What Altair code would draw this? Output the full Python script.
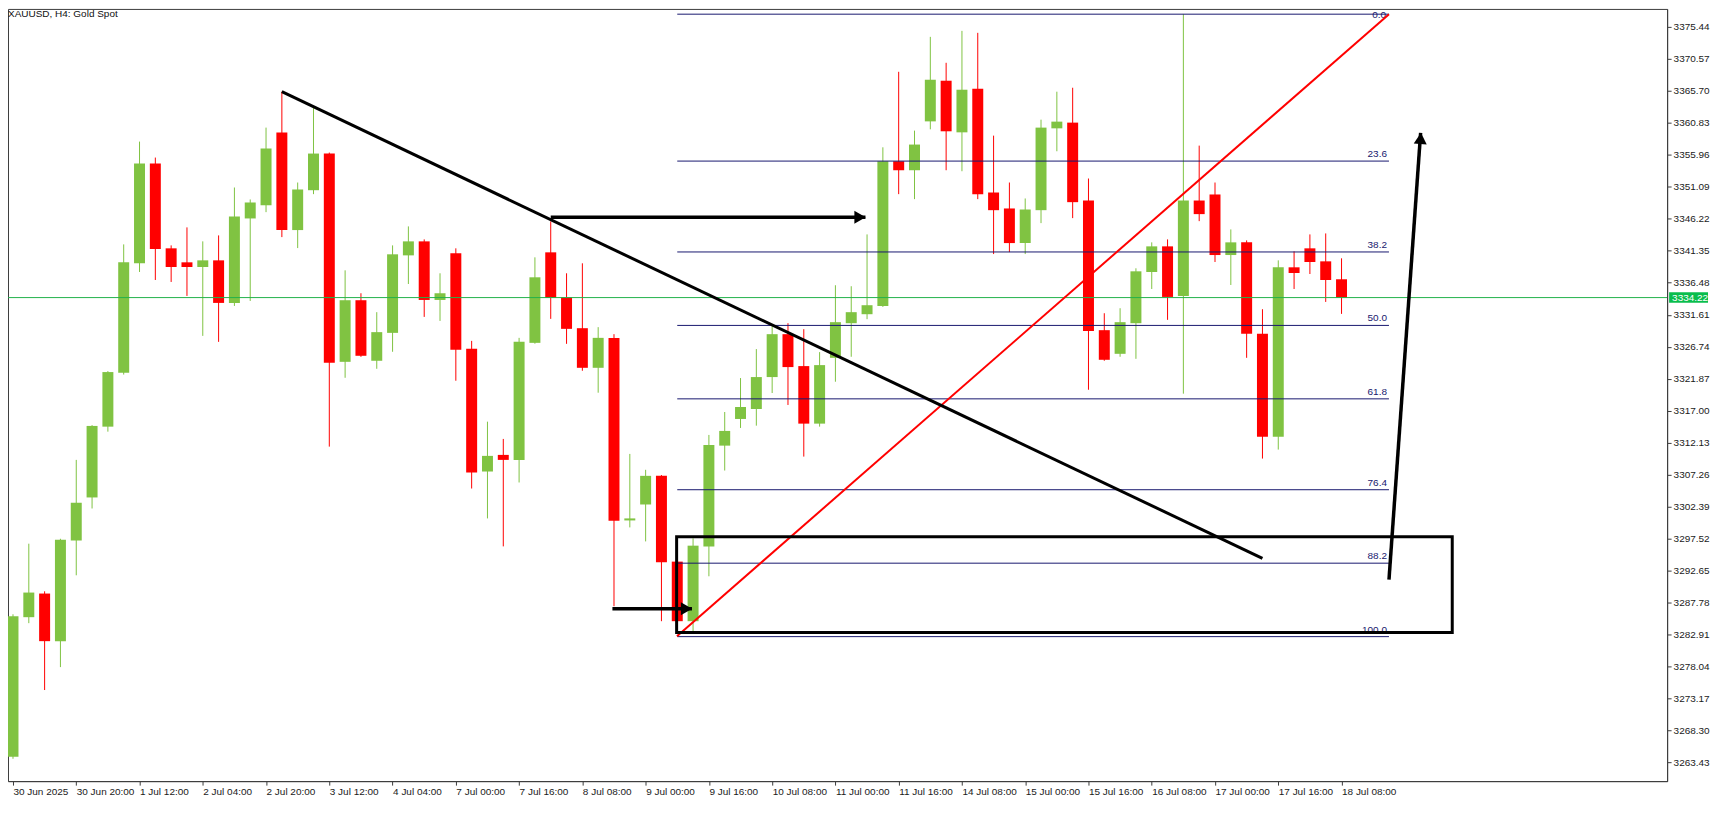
import altair as alt
import pandas as pd

# ---------------- data ----------------
opens = [3264.3, 3285.56, 3289.16, 3281.91, 3297.25, 3303.79, 3314.57, 3322.78, 3339.44, 3354.63,
         3341.72, 3339.59, 3338.88, 3339.89, 3333.41, 3346.27, 3348.29, 3359.34, 3344.5, 3350.57,
         3356.15, 3324.44, 3333.82, 3324.6, 3328.85, 3340.65, 3342.78, 3333.86, 3340.96, 3326.42,
         3307.74, 3310.27, 3309.51, 3327.33, 3341.11, 3334.27, 3329.56, 3323.53, 3328.05, 3300.29,
         3302.72, 3307.08, 3294.02, 3284.95, 3296.34, 3311.68, 3315.74, 3317.26, 3322.12, 3328.65,
         3323.79, 3315.03, 3325.05, 3330.32, 3331.69, 3332.95, 3354.98, 3353.61, 3361.05, 3367.24,
         3359.38, 3366.02, 3350.22, 3347.79, 3342.52, 3347.53, 3359.99, 3360.86, 3349.0, 3329.26,
         3325.66, 3330.32, 3338.12, 3342.02, 3334.47, 3349.0, 3349.92, 3340.7, 3342.63, 3328.7,
         3313.05, 3338.83, 3341.72, 3339.74, 3337.01]
highs = [3286.0, 3296.75, 3289.5, 3297.5, 3309.51, 3314.8, 3323.03, 3342.32, 3357.97, 3355.54,
         3342.17, 3344.91, 3342.78, 3343.69, 3350.98, 3349.16, 3360.1, 3365.57, 3351.74, 3363.14,
         3356.3, 3338.37, 3334.88, 3332.0, 3342.17, 3345.06, 3343.08, 3337.92, 3341.72, 3327.63,
         3315.33, 3312.7, 3328.09, 3340.35, 3345.82, 3337.92, 3339.44, 3329.72, 3328.65, 3310.42,
         3308.0, 3307.2, 3294.2, 3297.56, 3313.31, 3316.8, 3321.97, 3326.38, 3329.87, 3330.32,
         3329.41, 3325.92, 3336.1, 3335.95, 3343.84, 3357.1, 3368.6, 3359.64, 3373.92, 3369.97,
         3374.83, 3374.53, 3358.88, 3351.74, 3349.31, 3361.31, 3365.57, 3366.17, 3352.35, 3331.84,
         3332.6, 3338.68, 3342.63, 3343.08, 3377.37, 3357.36, 3351.74, 3344.6, 3342.93, 3332.45,
         3339.89, 3341.26, 3343.84, 3343.99, 3340.2]
lows = [3264.0, 3284.65, 3274.47, 3277.96, 3291.94, 3302.11, 3313.81, 3322.5, 3338.12, 3336.9,
        3336.6, 3334.47, 3328.39, 3327.48, 3332.95, 3333.71, 3347.23, 3343.43, 3341.76, 3349.97,
        3311.53, 3322.01, 3325.2, 3323.38, 3325.97, 3336.29, 3331.28, 3330.67, 3321.56, 3305.15,
        3300.6, 3296.34, 3306.07, 3327.2, 3330.98, 3327.18, 3323.08, 3319.74, 3287.23, 3299.23,
        3297.1, 3284.95, 3284.9, 3283.43, 3291.79, 3307.89, 3314.37, 3314.72, 3319.69, 3317.87,
        3310.01, 3314.57, 3321.41, 3325.21, 3330.93, 3332.8, 3349.97, 3349.21, 3359.84, 3353.61,
        3353.46, 3349.21, 3340.85, 3341.15, 3340.85, 3345.56, 3356.5, 3346.32, 3320.19, 3324.6,
        3325.21, 3324.9, 3335.53, 3330.83, 3319.59, 3345.86, 3339.64, 3336.14, 3325.05, 3309.71,
        3311.08, 3335.53, 3337.81, 3333.56, 3331.74]
closes = [3285.7, 3289.31, 3281.91, 3297.36, 3302.98, 3314.68, 3322.88, 3339.59, 3354.63, 3341.61,
          3338.88, 3338.88, 3339.89, 3333.41, 3346.58, 3348.7, 3356.91, 3344.5, 3350.68, 3356.15,
          3324.29, 3333.82, 3325.36, 3328.96, 3340.81, 3342.78, 3333.86, 3334.88, 3326.27, 3307.58,
          3310.12, 3309.51, 3327.48, 3337.31, 3334.17, 3329.46, 3323.53, 3328.09, 3300.25, 3300.6,
          3307.08, 3293.91, 3284.95, 3296.45, 3311.79, 3313.92, 3317.56, 3322.12, 3328.65, 3323.64,
          3315.03, 3323.94, 3330.48, 3332.0, 3333.06, 3354.98, 3353.61, 3357.52, 3367.39, 3359.54,
          3365.87, 3349.97, 3347.53, 3342.52, 3347.64, 3360.1, 3361.01, 3348.75, 3329.15, 3324.75,
          3330.48, 3338.22, 3342.02, 3334.32, 3349.0, 3346.93, 3340.7, 3342.63, 3328.7, 3313.05,
          3338.83, 3337.96, 3339.64, 3336.9, 3334.22]

x_labels = ["30 Jun 2025", "30 Jun 20:00", "1 Jul 12:00", "2 Jul 04:00", "2 Jul 20:00",
            "3 Jul 12:00", "4 Jul 04:00", "7 Jul 00:00", "7 Jul 16:00", "8 Jul 08:00",
            "9 Jul 00:00", "9 Jul 16:00", "10 Jul 08:00", "11 Jul 00:00", "11 Jul 16:00",
            "14 Jul 08:00", "15 Jul 00:00", "15 Jul 16:00", "16 Jul 08:00", "17 Jul 00:00",
            "17 Jul 16:00", "18 Jul 08:00"]
label_step = 4

y_ticks = [3375.44, 3370.57, 3365.70, 3360.83, 3355.96, 3351.09, 3346.22, 3341.35, 3336.48,
           3331.61, 3326.74, 3321.87, 3317.00, 3312.13, 3307.26, 3302.39, 3297.52, 3292.65,
           3287.78, 3282.91, 3278.04, 3273.17, 3268.30, 3263.43]

fib_levels = [0.0, 23.6, 38.2, 50.0, 61.8, 76.4, 88.2, 100.0]
fib_top = 3377.37
fib_bottom = 3282.6
fib_start = 42.0
fib_end = 87.0

current_price = 3334.22
title_text = "XAUUSD, H4:  Gold Spot"

# drawn objects (index, price)
trend_down = {"x0": 17.0, "y0": 3365.57, "x1": 79.0, "y1": 3294.52}
trend_up = {"x0": 41.98, "y0": 3282.67, "x1": 87.0, "y1": 3377.37}
arrows_h = pd.DataFrame({"x0": [34.0, 37.9], "x1": [53.9, 42.93], "y": [3346.47, 3286.83]})
arrow_up = {"x0": 87.0, "y0": 3291.28, "x1": 89.0, "y1": 3359.29}
zone = {"x0": 41.96, "x1": 91.0, "y0": 3297.82, "y1": 3283.23}

# ---------------- styling ----------------
W, H = 1663, 774
XDOM = [0, 104.27]
YDOM = [3260.60, 3378.17]
GREEN = "#80c342"
RED = "#ff0000"
NAVY = "#18186e"
PRICE_GREEN = "#22b24a"
BOX_GREEN = "#09bd4c"
FRAME = "#3c3c3c"
FONT = "Liberation Sans"
FS = 10

xs = alt.Scale(domain=XDOM, nice=False, zero=False)
ys = alt.Scale(domain=YDOM, nice=False, zero=False)

label_arr = "[" + ",".join("'" + s + "'" for s in x_labels) + "]"
xaxis = alt.Axis(values=[k * label_step for k in range(len(x_labels))],
                 labelExpr=label_arr + "[round(datum.value/" + str(label_step) + ")]",
                 title=None, grid=False, labelAlign="left", labelBaseline="top",
                 tickSize=4, labelPadding=1, labelFlush=False, labelOverlap=False,
                 domainColor=FRAME, tickColor=FRAME, labelColor="#1a1a1a",
                 labelFont=FONT, labelFontSize=FS)
yaxis = alt.Axis(orient="right", values=y_ticks, format=".2f", title=None, grid=False,
                 tickSize=4, labelPadding=2, labelFlush=False, labelOverlap=False,
                 domainColor=FRAME, tickColor=FRAME, labelColor="#1a1a1a",
                 labelFont=FONT, labelFontSize=FS)

n = len(opens)
candles = pd.DataFrame({
    "i": list(range(n)), "o": opens, "h": highs, "l": lows, "c": closes,
})
candles["dir"] = ["up" if c >= o else "down" for o, c in zip(opens, closes)]

color = alt.Color("dir:N", scale=alt.Scale(domain=["up", "down"], range=[GREEN, RED]), legend=None)
X = alt.X("i:Q", scale=xs, axis=xaxis)
base = alt.Chart(candles)

wicks = base.mark_rule(strokeWidth=1, clip=True).encode(
    x=X, y=alt.Y("l:Q", scale=ys, axis=yaxis), y2="h:Q", color=color)
bodies = base.mark_bar(size=11, clip=True).encode(
    x=X, y=alt.Y("o:Q", scale=ys, axis=yaxis), y2="c:Q", color=color)

fib = pd.DataFrame({
    "lvl": fib_levels,
    "price": [fib_top - l / 100.0 * (fib_top - fib_bottom) for l in fib_levels],
    "label": [f"{l:.1f}" for l in fib_levels],
    "x0": [fib_start] * len(fib_levels),
    "x1": [fib_end] * len(fib_levels),
})
fib_lines = alt.Chart(fib).mark_rule(color=NAVY, strokeWidth=1).encode(
    x=alt.X("x0:Q", scale=xs, axis=xaxis), x2="x1:Q",
    y=alt.Y("price:Q", scale=ys, axis=yaxis))
# labels above their line; the top one has no room above the frame, so it sits just below
fib_text = alt.Chart(fib[fib["lvl"] > 0]).mark_text(
    color=NAVY, align="right", baseline="alphabetic", dx=-2, dy=-4,
    font=FONT, fontSize=FS).encode(
    x=alt.X("x1:Q", scale=xs, axis=xaxis), y=alt.Y("price:Q", scale=ys, axis=yaxis),
    text="label:N")
fib_text_top = alt.Chart(fib[fib["lvl"] == 0]).mark_text(
    color=NAVY, align="right", baseline="alphabetic", dx=-3, dy=4,
    font=FONT, fontSize=FS).encode(
    x=alt.X("x1:Q", scale=xs, axis=xaxis), y=alt.Y("price:Q", scale=ys, axis=yaxis),
    text="label:N")

def seg(d, colr, sw):
    return alt.Chart(pd.DataFrame([d])).mark_rule(color=colr, strokeWidth=sw).encode(
        x=alt.X("x0:Q", scale=xs, axis=xaxis), x2="x1:Q",
        y=alt.Y("y0:Q", scale=ys, axis=yaxis), y2="y1:Q")

red_line = seg(trend_up, RED, 2)
black_line = seg(trend_down, "black", 3)

arrow_shafts = alt.Chart(arrows_h).mark_rule(color="black", strokeWidth=3.5).encode(
    x=alt.X("x0:Q", scale=xs, axis=xaxis), x2="x1:Q",
    y=alt.Y("y:Q", scale=ys, axis=yaxis))
arrow_heads = alt.Chart(arrows_h).mark_point(shape="triangle-right", filled=True, size=170,
                                             color="black", opacity=1, xOffset=-5.5).encode(
    x=alt.X("x1:Q", scale=xs, axis=xaxis), y=alt.Y("y:Q", scale=ys, axis=yaxis))

up_shaft = alt.Chart(pd.DataFrame([arrow_up])).mark_rule(color="black", strokeWidth=3.5).encode(
    x=alt.X("x0:Q", scale=xs, axis=xaxis),
    x2=alt.X2("x1:Q"),
    y=alt.Y("y0:Q", scale=ys, axis=yaxis), y2="y1:Q")
up_head = alt.Chart(pd.DataFrame([arrow_up])).mark_point(shape="triangle-up", filled=True,
                                                         size=170, color="black", opacity=1,
                                                         yOffset=5.5, angle=4).encode(
    x=alt.X("x1:Q", scale=xs, axis=xaxis), y=alt.Y("y1:Q", scale=ys, axis=yaxis))

zone_rect = alt.Chart(pd.DataFrame([zone])).mark_rect(filled=False, color="black",
                                                      strokeWidth=3).encode(
    x=alt.X("x0:Q", scale=xs, axis=xaxis), x2="x1:Q",
    y=alt.Y("y0:Q", scale=ys, axis=yaxis), y2="y1:Q")

one = pd.DataFrame({"p": [current_price], "t": [f"{current_price:.2f}"],
                    "p_hi": [current_price + 0.8], "p_lo": [current_price - 0.8]})
price_line = alt.Chart(one).mark_rule(color=PRICE_GREEN, strokeWidth=1).encode(
    y=alt.Y("p:Q", scale=ys, axis=yaxis))
price_box = alt.Chart(one).mark_rect(color=BOX_GREEN, clip=False).encode(
    x=alt.value(W + 2), x2=alt.value(W + 41),
    y=alt.Y("p_hi:Q", scale=ys, axis=yaxis), y2="p_lo:Q")
price_txt = alt.Chart(one).mark_text(color="white", align="left", baseline="middle",
                                     font=FONT, fontSize=FS, clip=False).encode(
    x=alt.value(W + 5), y=alt.Y("p:Q", scale=ys, axis=yaxis), text="t:N")

title = alt.Chart(pd.DataFrame({"t": [title_text]})).mark_text(
    align="left", baseline="top", font=FONT, fontSize=FS, color="#111111").encode(
    x=alt.value(0), y=alt.value(0), text="t:N")

chart = alt.layer(
    wicks, bodies, price_line, fib_lines, fib_text, fib_text_top, red_line, black_line,
    arrow_shafts, arrow_heads, up_shaft, up_head, zone_rect, price_box, price_txt, title
).properties(
    width=W, height=H, background="white",
    autosize=alt.AutoSizeParams(type="none"),
    padding={"left": 0, "top": 0, "right": 48, "bottom": 24},
).configure_view(stroke=FRAME, strokeWidth=1)

chart.save("out.html", embed_options={"renderer": "svg", "actions": False})
